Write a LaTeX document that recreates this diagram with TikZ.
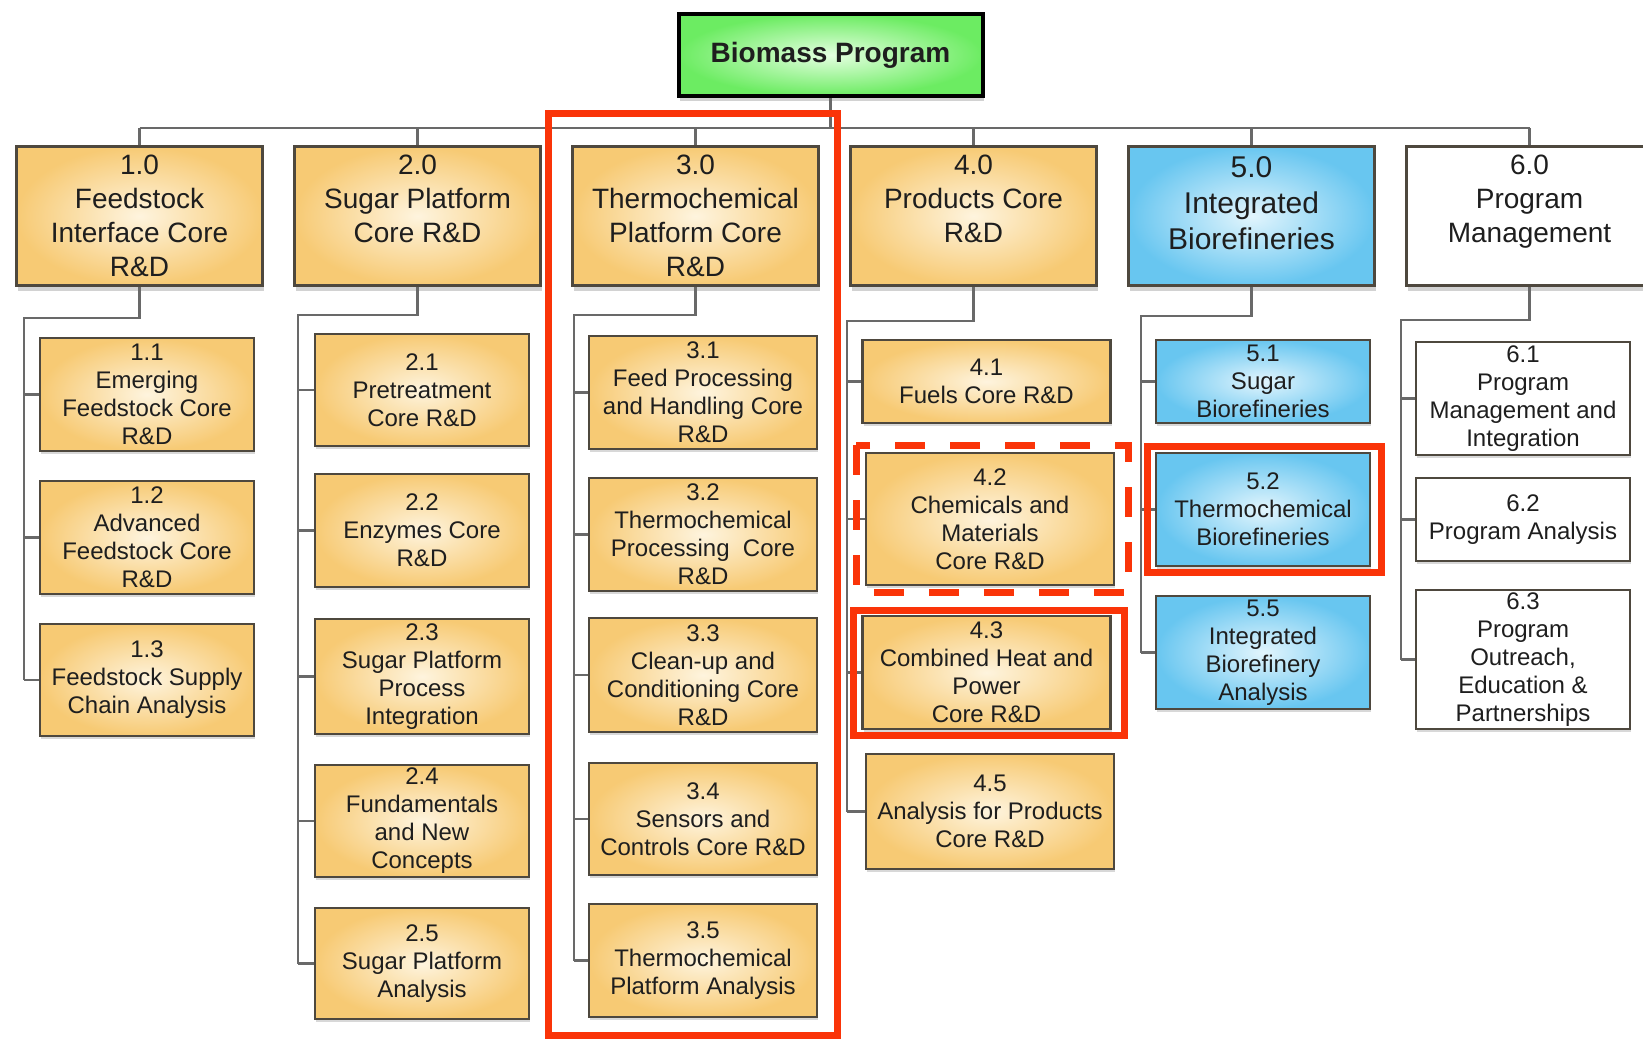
\documentclass[tikz,border=0pt]{standalone}
\usepackage{fontspec}
\setmainfont{Liberation Sans}
\usetikzlibrary{shadows}

\definecolor{orgEdge}{RGB}{247,202,116}
\definecolor{orgMid}{RGB}{254,244,222}
\definecolor{bluEdge}{RGB}{104,198,240}
\definecolor{bluMid}{RGB}{226,245,253}
\definecolor{grnEdge}{RGB}{108,236,98}
\definecolor{grnMid}{RGB}{228,255,224}
\definecolor{cFrame}{RGB}{78,72,62}
\definecolor{cWire}{RGB}{105,105,105}
\definecolor{cMark}{RGB}{250,52,8}
\definecolor{cInk}{RGB}{30,30,30}

\tikzset{
  base/.style={draw=cFrame, line width=2.5pt, inner sep=0pt, align=center, text=cInk},
  headbox/.style={base, line width=3pt, minimum width=246pt, minimum height=139pt,
    font=\fontsize{28}{34}\selectfont,
    drop shadow={shadow xshift=1pt, shadow yshift=-5pt, opacity=0.35}},
  subbox/.style={base, font=\fontsize{24}{28}\selectfont,
    drop shadow={shadow xshift=1pt, shadow yshift=-3pt, opacity=0.3}},
  fillO/.style={inner color=orgMid, outer color=orgEdge},
  fillB/.style={inner color=bluMid, outer color=bluEdge},
  fillG/.style={inner color=grnMid, outer color=grnEdge},
  fillW/.style={fill=white},
  colA/.style={subbox, minimum width=214pt},
  colC/.style={subbox, minimum width=228pt},
  colD/.style={subbox, minimum width=248pt},
  wire/.style={draw=cWire, line width=2.5pt},
  redframe/.style={draw=cMark, line width=7pt}
}

\begin{document}
\begin{tikzpicture}[x=1pt, y=-1pt]
  \fill[white] (0,0) rectangle (1643,1039);
  \useasboundingbox (0,0) rectangle (1643,1039);
  \clip (0,0) rectangle (1643,1039);

  % program root
  \node[base, fillG, draw=black, line width=4pt, minimum width=304pt, minimum height=82pt,
        font=\bfseries\fontsize{28}{34}\selectfont,
        drop shadow={shadow xshift=1pt, shadow yshift=-5pt, opacity=0.35}]
        (root) at (830.5,55) {Biomass Program};

  % first level
  \node[headbox, fillO] (h1) at (139.5,216) {1.0\\Feedstock\\Interface Core\\R\&D};
  \node[headbox, fillO] (h2) at (417.5,216) {2.0\\Sugar Platform\\Core R\&D\\\mbox{}};
  \node[headbox, fillO] (h3) at (695.5,216) {3.0\\Thermochemical\\Platform Core\\R\&D};
  \node[headbox, fillO] (h4) at (973.5,216) {4.0\\Products Core\\R\&D\\\mbox{}};
  \node[headbox, fillB, font=\fontsize{30}{36}\selectfont] (h5) at (1251.5,216) {\\[-6pt]5.0\\Integrated\\Biorefineries\\\mbox{}};
  \node[headbox, fillW] (h6) at (1529.5,216) {6.0\\Program\\Management\\\mbox{}};

  % 1.x
  \node[colA, fillO, minimum height=113pt] (c11) at (147,394.5) {1.1\\Emerging\\Feedstock Core\\R\&D};
  \node[colA, fillO, minimum height=113pt] (c12) at (147,537.5) {1.2\\Advanced\\Feedstock Core\\R\&D};
  \node[colA, fillO, minimum height=112pt] (c13) at (147,680) {1.3\\Feedstock Supply\\Chain Analysis};

  % 2.x
  \node[colA, fillO, minimum height=112pt] (c21) at (422,390) {2.1\\Pretreatment\\Core R\&D};
  \node[colA, fillO, minimum height=113pt] (c22) at (422,530.5) {2.2\\Enzymes Core\\R\&D};
  \node[colA, fillO, minimum height=115pt] (c23) at (422,676.5) {2.3\\Sugar Platform\\Process\\Integration};
  \node[colA, fillO, minimum height=112pt] (c24) at (422,821) {2.4\\Fundamentals\\and New\\Concepts};
  \node[colA, fillO, minimum height=111pt] (c25) at (422,963.5) {2.5\\Sugar Platform\\Analysis};

  % 3.x
  \node[colC, fillO, minimum height=113pt] (c31) at (703,392.5) {3.1\\Feed Processing\\and Handling Core\\R\&D};
  \node[colC, fillO, minimum height=113pt] (c32) at (703,534.5) {3.2\\Thermochemical\\Processing~~Core\\R\&D};
  \node[colC, fillO, minimum height=114pt] (c33) at (703,675) {3.3\\Clean-up and\\Conditioning Core\\R\&D};
  \node[colC, fillO, minimum height=112pt] (c34) at (703,819) {3.4\\Sensors and\\Controls Core R\&D};
  \node[colC, fillO, minimum height=113pt] (c35) at (703,960.5) {3.5\\Thermochemical\\Platform Analysis};

  % 4.x
  \node[colD, fillO, minimum height=83pt] (c41) at (986.5,381.5) {4.1\\Fuels Core R\&D};
  \node[colD, fillO, minimum height=132pt] (c42) at (990,519) {4.2\\Chemicals and\\Materials\\Core R\&D};
  \node[colD, fillO, minimum height=113pt] (c43) at (986.5,672.5) {4.3\\Combined Heat and\\Power\\Core R\&D};
  \node[colD, fillO, minimum height=115pt] (c45) at (990,811.5) {4.5\\Analysis for Products\\Core R\&D};

  % 5.x
  \node[colA, fillB, minimum height=83pt] (c51) at (1263,381.5) {5.1\\Sugar\\Biorefineries};
  \node[colA, fillB, minimum height=113pt] (c52) at (1263,509.5) {5.2\\Thermochemical\\Biorefineries};
  \node[colA, fillB, minimum height=113pt] (c55) at (1263,652.5) {5.5\\Integrated\\Biorefinery\\Analysis};

  % 6.x
  \node[colA, fillW, minimum height=113pt] (c61) at (1523,398.5) {6.1\\Program\\Management and\\Integration};
  \node[colA, fillW, minimum height=83pt] (c62) at (1523,519.5) {6.2\\Program Analysis};
  \node[colA, fillW, minimum height=139pt] (c63) at (1523,659.5) {6.3\\Program\\Outreach,\\Education \&\\Partnerships};

  % connectors: root to first level
  \coordinate (bus) at (0,128);
  \draw[wire] (root.south) -- (root.south |- bus);
  \draw[wire] (h1.north |- bus) -- (h6.north |- bus);
  \foreach \i in {1,...,6} \draw[wire] (h\i.north |- bus) -- (h\i.north);

  % connectors: first level to its children
  \coordinate (e1) at (24,318);
  \coordinate (e2) at (298,315);
  \coordinate (e3) at (574,315);
  \coordinate (e4) at (847,321);
  \coordinate (e5) at (1141,316);
  \coordinate (e6) at (1401,320);
  \draw[wire] (h1.south) |- (e1) -- (e1 |- c13.west);
  \draw[wire] (h2.south) |- (e2) -- (e2 |- c25.west);
  \draw[wire] (h3.south) |- (e3) -- (e3 |- c35.west);
  \draw[wire] (h4.south) |- (e4) -- (e4 |- c45.west);
  \draw[wire] (h5.south) |- (e5) -- (e5 |- c55.west);
  \draw[wire] (h6.south) |- (e6) -- (e6 |- c63.west);
  \foreach \n in {c11,c12,c13} \draw[wire] (e1 |- \n.west) -- (\n.west);
  \foreach \n in {c21,c22,c23,c24,c25} \draw[wire] (e2 |- \n.west) -- (\n.west);
  \foreach \n in {c31,c32,c33,c34,c35} \draw[wire] (e3 |- \n.west) -- (\n.west);
  \foreach \n in {c41,c42,c43,c45} \draw[wire] (e4 |- \n.west) -- (\n.west);
  \foreach \n in {c51,c52,c55} \draw[wire] (e5 |- \n.west) -- (\n.west);
  \foreach \n in {c61,c62,c63} \draw[wire] (e6 |- \n.west) -- (\n.west);

  % red highlight frames
  \draw[redframe] (548,113) rectangle (837,1035);
  \draw[redframe, dash pattern=on 30pt off 25pt] (856,445) rectangle (1128.5,592);
  \draw[redframe] (853,610) rectangle (1124,735);
  \draw[redframe] (1147,446) rectangle (1381,572);
\end{tikzpicture}
\end{document}
